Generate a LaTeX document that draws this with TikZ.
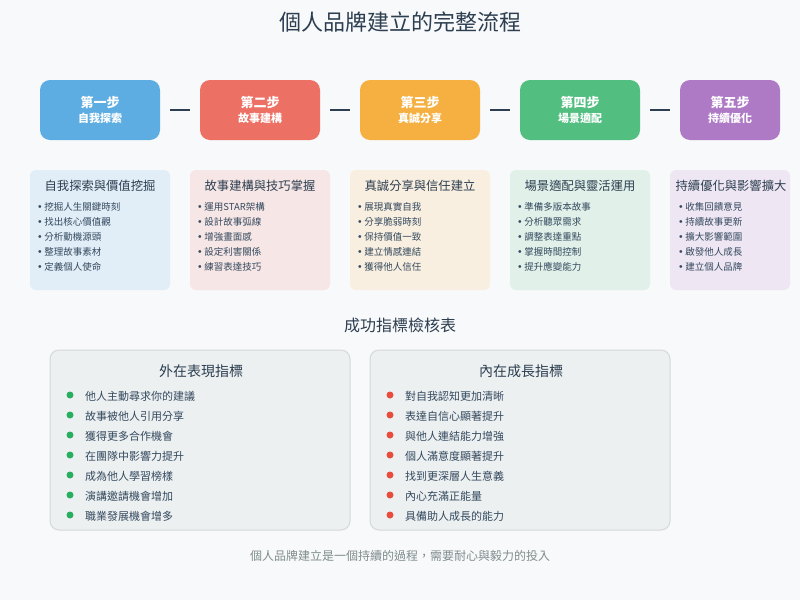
\documentclass[tikz,border=0pt]{standalone}
\usepackage{fontspec}
\setmainfont{Noto Sans CJK TC}
\newfontfamily\bulletfont{DejaVu Sans}
\usetikzlibrary{positioning}
\definecolor{bg}{HTML}{F8F9FA}
\definecolor{dark}{HTML}{2C3E50}
\definecolor{txt}{HTML}{34495E}
\definecolor{cA}{HTML}{5DADE2}
\definecolor{cB}{HTML}{EC7063}
\definecolor{cC}{HTML}{F5B041}
\definecolor{cD}{HTML}{52BE80}
\definecolor{cE}{HTML}{AF7AC5}
\definecolor{panelfill}{HTML}{ECF0F1}
\definecolor{panelline}{HTML}{D5D8DC}
\definecolor{gdot}{HTML}{27AE60}
\definecolor{rdot}{HTML}{E74C3C}
\definecolor{foot}{HTML}{7F8C8D}
\newcommand{\fs}[1]{\fontsize{#1}{#1}\selectfont}
\newcommand{\bul}{{\bulletfont •}\hspace{1.5pt}}
\newcommand{\mkcard}[9]{%
  \node[cardbox, fill=#3!14!bg] (#1) at (#2,230) {};
  \node[cardtitle] (#1t) at (#2,186) {#4};
  \node[carditem] (#1a) at (#2-63,207) {\bul#5};
  \node[carditem] (#1b) at (#2-63,222) {\bul#6};
  \node[carditem] (#1c) at (#2-63,237) {\bul#7};
  \node[carditem] (#1d) at (#2-63,252) {\bul#8};
  \node[carditem] (#1e) at (#2-63,267) {\bul#9};
}
\tikzset{
  stepbox/.style={rounded corners=10pt, minimum height=60pt, inner sep=0pt, text=white, align=center},
  conn/.style={draw=dark, line width=2pt, shorten >=10pt, shorten <=10pt},
  cardbox/.style={rounded corners=6pt, minimum width=140pt, minimum height=120pt, inner sep=0pt},
  cardtitle/.style={text=dark, font=\fs{12.3}, inner sep=0pt},
  carditem/.style={text=txt, font=\fs{9.5}, anchor=west, inner sep=0pt},
  panel/.style={draw=panelline, line width=1pt, fill=panelfill, rounded corners=9pt, minimum width=300pt, minimum height=180pt, inner sep=0pt},
  paneltitle/.style={text=dark, font=\fs{14}, inner sep=0pt},
  dotmark/.style={circle, minimum size=7pt, inner sep=0pt},
  pitem/.style={text=txt, font=\fs{11}, anchor=west, inner sep=0pt},
}
\begin{document}
\begin{tikzpicture}[x=1pt,y=-1pt]
\path[fill=bg] (0,0) rectangle (800,600);
\useasboundingbox (0,0) rectangle (800,600);
\node[text=dark, font=\fs{22}] (title) at (400,22) {個人品牌建立的完整流程};
% steps
\node[stepbox, fill=cA, minimum width=120pt] (s1) at (100,110) {{\fs{13}\bfseries 第一步}\\[3pt]{\fs{11}\bfseries 自我探索}};
\node[stepbox, fill=cB, minimum width=120pt] (s2) at (260,110) {{\fs{13}\bfseries 第二步}\\[3pt]{\fs{11}\bfseries 故事建構}};
\node[stepbox, fill=cC, minimum width=120pt] (s3) at (420,110) {{\fs{13}\bfseries 第三步}\\[3pt]{\fs{11}\bfseries 真誠分享}};
\node[stepbox, fill=cD, minimum width=120pt] (s4) at (580,110) {{\fs{13}\bfseries 第四步}\\[3pt]{\fs{11}\bfseries 場景適配}};
\node[stepbox, fill=cE, minimum width=100pt] (s5) at (730,110) {{\fs{13}\bfseries 第五步}\\[3pt]{\fs{11}\bfseries 持續優化}};
\draw[conn] (s1) -- (s2);
\draw[conn] (s2) -- (s3);
\draw[conn] (s3) -- (s4);
\draw[conn] (s4) -- (s5);
% cards
\mkcard{k1}{100}{cA}{自我探索與價值挖掘}{挖掘人生關鍵時刻}{找出核心價值觀}{分析動機源頭}{整理故事素材}{定義個人使命}
\mkcard{k2}{260}{cB}{故事建構與技巧掌握}{運用STAR架構}{設計故事弧線}{增強畫面感}{設定利害關係}{練習表達技巧}
\mkcard{k3}{420}{cC}{真誠分享與信任建立}{展現真實自我}{分享脆弱時刻}{保持價值一致}{建立情感連結}{獲得他人信任}
\mkcard{k4}{580}{cD}{場景適配與靈活運用}{準備多版本故事}{分析聽眾需求}{調整表達重點}{掌握時間控制}{提升應變能力}
\node[cardbox, fill=cE!14!bg, minimum width=120pt] (k5) at (730,230) {};
\node[cardtitle] (k5t) at (731,186) {持續優化與影響擴大};
\node[carditem] (k5a) at (678,207) {\bul 收集回饋意見};
\node[carditem] (k5b) at (678,222) {\bul 持續故事更新};
\node[carditem] (k5c) at (678,237) {\bul 擴大影響範圍};
\node[carditem] (k5d) at (678,252) {\bul 啟發他人成長};
\node[carditem] (k5e) at (678,267) {\bul 建立個人品牌};
% checklist
\node[text=dark, font=\fs{16}] (sub) at (400,325) {成功指標檢核表};
\node[panel] (pL) at (200,440) {};
\node[panel] (pR) at (520,440) {};
\node[paneltitle] (pLt) at (201,371) {外在表現指標};
\node[paneltitle] (pRt) at (521,371) {內在成長指標};
\foreach \t [count=\k] in {他人主動尋求你的建議,故事被他人引用分享,獲得更多合作機會,在團隊中影響力提升,成為他人學習榜樣,演講邀請機會增加,職業發展機會增多}{
  \node[dotmark, fill=gdot] (gd\k) at (70,375+20*\k) {};
  \node[pitem] (gt\k) at (85,376+20*\k) {\t};
}
\foreach \t [count=\k] in {對自我認知更加清晰,表達自信心顯著提升,與他人連結能力增強,個人滿意度顯著提升,找到更深層人生意義,內心充滿正能量,具備助人成長的能力}{
  \node[dotmark, fill=rdot] (rd\k) at (390,375+20*\k) {};
  \node[pitem] (rt\k) at (405,376+20*\k) {\t};
}
\node[text=foot, font=\fs{12}] (footer) at (400,556) {個人品牌建立是一個持續的過程，需要耐心與毅力的投入};
\end{tikzpicture}
\end{document}
